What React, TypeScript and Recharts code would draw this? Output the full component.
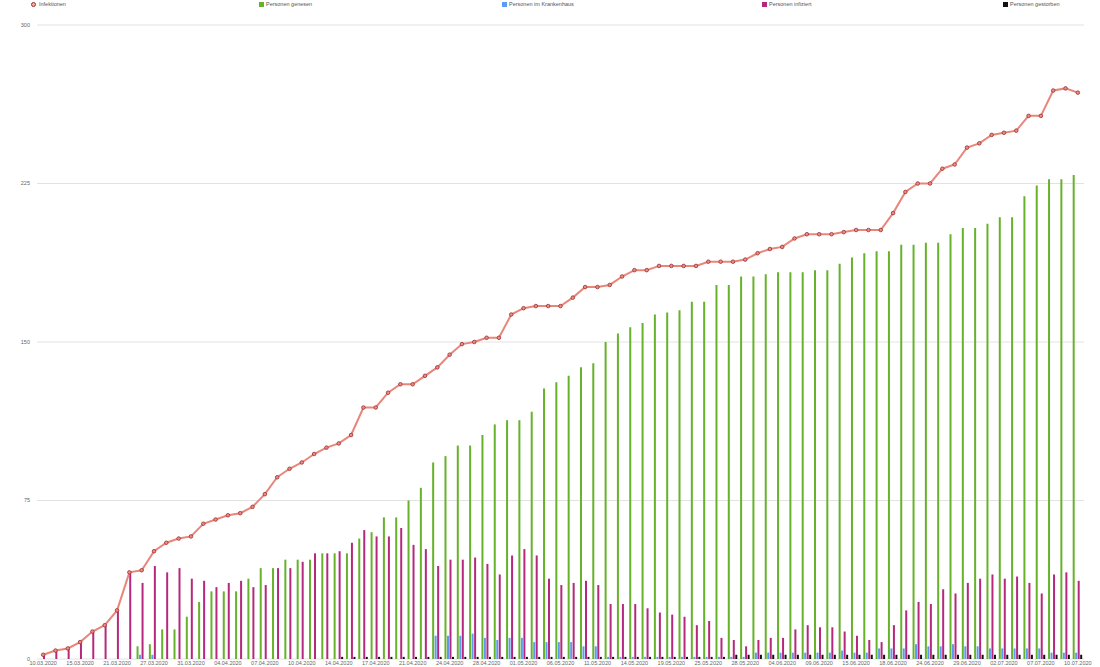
import React from "react";
import { ComposedChart, Bar, Line, XAxis, YAxis, CartesianGrid, Legend } from "recharts";

const dates = ["10.03.2020","11.03.2020","13.03.2020","15.03.2020","17.03.2020","19.03.2020","21.03.2020","23.03.2020","25.03.2020","27.03.2020","28.03.2020","30.03.2020","31.03.2020","01.04.2020","03.04.2020","04.04.2020","05.04.2020","06.04.2020","07.04.2020","08.04.2020","09.04.2020","10.04.2020","11.04.2020","13.04.2020","14.04.2020","15.04.2020","16.04.2020","17.04.2020","19.04.2020","20.04.2020","21.04.2020","22.04.2020","23.04.2020","24.04.2020","26.04.2020","27.04.2020","28.04.2020","29.04.2020","30.04.2020","01.05.2020","04.05.2020","05.05.2020","06.05.2020","07.05.2020","08.05.2020","11.05.2020","12.05.2020","13.05.2020","14.05.2020","15.05.2020","18.05.2020","19.05.2020","20.05.2020","22.05.2020","25.05.2020","26.05.2020","27.05.2020","28.05.2020","29.05.2020","02.06.2020","04.06.2020","05.06.2020","08.06.2020","09.06.2020","10.06.2020","12.06.2020","15.06.2020","16.06.2020","17.06.2020","18.06.2020","19.06.2020","22.06.2020","24.06.2020","25.06.2020","26.06.2020","29.06.2020","30.06.2020","01.07.2020","02.07.2020","03.07.2020","06.07.2020","07.07.2020","08.07.2020","09.07.2020","10.07.2020"];

const infektionen = [2,4,5,8,13,16,23,41,42,51,55,57,58,64,66,68,69,72,78,86,90,93,97,100,102,106,119,119,126,130,130,134,138,144,149,150,152,152,163,166,167,167,167,171,176,176,177,181,184,184,186,186,186,186,188,188,188,189,192,194,195,199,201,201,201,202,203,203,203,211,221,225,225,232,234,242,244,248,249,250,257,257,269,270,268];

const genesen = [0,0,0,0,0,0,0,0,6,7,14,14,20,27,32,32,32,38,43,43,47,47,47,50,50,50,57,60,67,67,75,81,93,96,101,101,106,111,113,113,117,128,131,134,138,140,150,154,157,159,163,164,165,169,169,177,177,181,181,182,183,183,183,184,184,187,190,192,193,193,196,196,197,197,201,204,204,206,209,209,219,224,227,227,229];

const krankenhaus = [0,0,0,0,0,0,0,0,2,2,0,0,0,0,0,0,0,0,0,0,0,0,0,0,0,0,0,0,0,0,0,0,11,11,11,12,10,9,10,10,8,8,8,8,6,6,1,1,1,1,1,1,1,1,1,1,1,1,3,3,3,3,3,3,3,4,3,3,5,5,5,7,6,6,7,6,6,5,5,5,5,5,3,3,3];

const infiziert = [2,4,5,8,13,16,23,41,36,44,41,43,38,37,34,36,37,34,35,43,43,46,50,50,51,55,61,58,58,62,54,52,44,47,47,48,45,40,49,52,49,38,35,36,37,35,26,26,26,24,22,21,20,16,18,10,9,6,9,10,10,14,16,15,15,13,11,9,8,16,23,27,26,33,31,36,38,40,38,39,36,31,40,41,37];

const gestorben = [0,0,0,0,0,0,0,0,0,0,0,0,0,0,0,0,0,0,0,0,0,0,0,0,1,1,1,1,1,1,1,1,1,1,1,1,1,1,1,1,1,1,1,1,1,1,1,1,1,1,1,1,1,1,1,1,2,2,2,2,2,2,2,2,2,2,2,2,2,2,2,2,2,2,2,2,2,2,2,2,2,2,2,2,2];

const yTicks = [0, 75, 150, 225, 300];

const COLORS = {
  line: "#e9867b",
  dotStroke: "#9c2e2e",
  genesen: "#66b22a",
  krankenhaus: "#5b9cf0",
  infiziert: "#b5287d",
  gestorben: "#111111",
};

const legendItems = [
  { label: "Infektionen", color: COLORS.line, type: "circle", left: 31 },
  { label: "Personen genesen", color: COLORS.genesen, type: "square", left: 259 },
  { label: "Personen im Krankenhaus", color: COLORS.krankenhaus, type: "square", left: 502 },
  { label: "Personen infiziert", color: COLORS.infiziert, type: "square", left: 762 },
  { label: "Personen gestorben", color: COLORS.gestorben, type: "square", left: 1003 },
];

const data = dates.map((d, i) => ({
  date: d,
  infektionen: infektionen[i],
  genesen: genesen[i],
  krankenhaus: krankenhaus[i],
  infiziert: infiziert[i],
  gestorben: gestorben[i],
}));

const LegendContent = () => (
  <div style={{ position: "relative", height: 0, width: 1100 }}>
    {legendItems.map((it) => (
      <div
        key={it.label}
        style={{
          position: "absolute",
          left: it.left,
          top: 0,
          height: 8,
          display: "flex",
          alignItems: "center",
          whiteSpace: "nowrap",
          fontSize: 5.5,
          color: "#555",
          fontFamily: "'Liberation Sans', Arial, sans-serif",
        }}
      >
        {it.type === "circle" ? (
          <span
            style={{
              display: "inline-block",
              width: 3,
              height: 3,
              borderRadius: "50%",
              border: `1px solid ${COLORS.dotStroke}`,
              background: "#f3b0a8",
              marginRight: 3,
            }}
          />
        ) : (
          <span
            style={{
              display: "inline-block",
              width: 5,
              height: 5,
              background: it.color,
              marginRight: 2,
            }}
          />
        )}
        <span>{it.label}</span>
      </div>
    ))}
  </div>
);

export default function App() {
  return (
    <div style={{ position: "absolute", left: 0, top: 0, width: 1100, height: 667, background: "#fff" }}>
      <ComposedChart
        width={1100}
        height={667}
        data={data}
        margin={{ top: 25, right: 16, bottom: 0, left: 0 }}
        barSize={2}
        barGap={0.5}
        style={{ fontFamily: "'Liberation Sans', Arial, sans-serif" }}
      >
        <CartesianGrid vertical={false} stroke="#e2e2e2" strokeWidth={1} />
        <XAxis
          dataKey="date"
          interval={2}
          height={8}
          tickLine={false}
          axisLine={false}
          tickSize={0}
          tickMargin={2}
          tick={{ fontSize: 5.5, fill: "#666" }}
        />
        <YAxis
          domain={[0, 300]}
          ticks={yTicks}
          width={37}
          tickLine={false}
          axisLine={false}
          tickSize={0}
          tickMargin={7}
          tick={{ fontSize: 5.5, fill: "#666" }}
        />
        <Legend
          verticalAlign="top"
          align="left"
          content={<LegendContent />}
          wrapperStyle={{ position: "absolute", left: 0, top: 0, height: 0, width: 1100 }}
        />
        <Bar dataKey="genesen" name="Personen genesen" fill={COLORS.genesen} isAnimationActive={false} />
        <Bar dataKey="krankenhaus" name="Personen im Krankenhaus" fill={COLORS.krankenhaus} isAnimationActive={false} />
        <Bar dataKey="infiziert" name="Personen infiziert" fill={COLORS.infiziert} isAnimationActive={false} />
        <Bar dataKey="gestorben" name="Personen gestorben" fill={COLORS.gestorben} isAnimationActive={false} />
        <Line
          type="linear"
          dataKey="infektionen"
          name="Infektionen"
          stroke={COLORS.line}
          strokeWidth={2}
          dot={{ r: 1.8, stroke: COLORS.dotStroke, strokeWidth: 0.8, fill: "#e98c82" }}
          activeDot={false}
          isAnimationActive={false}
        />
      </ComposedChart>
    </div>
  );
}
